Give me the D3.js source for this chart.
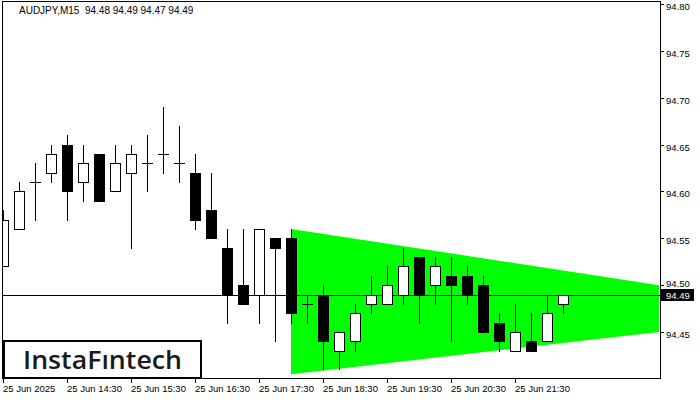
<!DOCTYPE html>
<html><head><meta charset="utf-8">
<script src="https://cdn.jsdelivr.net/npm/d3@7"></script>
<style>body{margin:0;background:#fff}svg{display:block}</style>
</head><body>
<svg id="chart" width="700" height="400"></svg>
<script>
// ---- data ----
const symbol = "AUDJPY,M15";
const lastBar = [94.48, 94.49, 94.47, 94.49];
const openP  = [94.52,94.56,94.61,94.62,94.65,94.61,94.64,94.60,94.62,94.63,94.64,94.63,94.62,94.58,94.54,94.50,94.49,94.55,94.55,94.48,94.49,94.43,94.44,94.48,94.48,94.49,94.53,94.50,94.51,94.51,94.50,94.46,94.43,94.44,94.44,94.48];
const highP  = [94.58,94.61,94.63,94.65,94.66,94.65,94.64,94.65,94.65,94.66,94.69,94.67,94.64,94.62,94.56,94.56,94.56,94.55,94.56,94.49,94.50,94.45,94.48,94.51,94.52,94.54,94.53,94.53,94.53,94.52,94.51,94.47,94.48,94.47,94.49,94.49];
const lowP   = [94.52,94.56,94.57,94.61,94.57,94.59,94.59,94.60,94.54,94.60,94.62,94.61,94.56,94.55,94.46,94.48,94.46,94.44,94.46,94.46,94.41,94.41,94.43,94.47,94.48,94.48,94.46,94.48,94.44,94.48,94.45,94.43,94.43,94.43,94.44,94.47];
const closeP = [94.57,94.60,94.61,94.64,94.60,94.63,94.59,94.63,94.64,94.63,94.64,94.63,94.57,94.55,94.49,94.48,94.56,94.54,94.47,94.48,94.44,94.45,94.47,94.49,94.50,94.52,94.49,94.52,94.50,94.49,94.45,94.44,94.45,94.43,94.47,94.49];
const timeLabels = ["25 Jun 2025","25 Jun 14:30","25 Jun 15:30","25 Jun 16:30","25 Jun 17:30","25 Jun 18:30","25 Jun 19:30","25 Jun 20:30","25 Jun 21:30"];
const labelBars = [0,4,8,12,16,20,24,28,32];
const priceTicks = [94.45,94.50,94.55,94.60,94.65,94.70,94.75,94.80];
const currentPrice = 94.49;
const triBars = [18, 41];
const triTop = [94.56, 94.50];
const triBottom = [94.405, 94.45];
const logoText = "InstaF\u0131ntech";

// ---- layout ----
const svg = d3.select("#chart");
const plot = {left: 2.5, top: 1.5, right: 660.5, bottom: 378.5};
const x = d3.scaleLinear().domain([0, 41]).range([3, 659]);
const y = d3.scaleLinear().domain([94.45, 94.80]).range([332, 4]);

svg.append("defs").append("clipPath").attr("id","clip")
  .append("rect").attr("x",plot.left).attr("y",plot.top)
  .attr("width",plot.right-plot.left).attr("height",plot.bottom-plot.top);
const g = svg.append("g").attr("clip-path","url(#clip)");

// triangle
const tri = [
  [x(triBars[0]), y(triTop[0])],
  [x(triBars[1]), y(triTop[1])],
  [x(triBars[1]), y(triBottom[1])],
  [x(triBars[0]), y(triBottom[0])]
];
g.append("path").attr("d", d3.line()(tri) + "Z").attr("fill", "#00ff00");

// current price line
g.append("line").attr("x1", plot.left).attr("x2", plot.right)
  .attr("y1", Math.round(y(currentPrice)) + 0.5).attr("y2", Math.round(y(currentPrice)) + 0.5)
  .attr("stroke", "#000").attr("stroke-width", 1);

// candles
const bars = d3.range(openP.length).map(i => ({i, o: openP[i], h: highP[i], l: lowP[i], c: closeP[i]}));
const py = v => Math.round(y(v));
const cg = g.append("g");
bars.forEach(d => {
  const cx = Math.round(x(d.i)) + 0.5;
  cg.append("line").attr("x1", cx).attr("x2", cx)
    .attr("y1", py(d.h)).attr("y2", py(d.l) + 1)
    .attr("stroke", "#000").attr("stroke-width", 1);
  if (d.o === d.c) {
    cg.append("line").attr("x1", cx - 5.5).attr("x2", cx + 5.5)
      .attr("y1", py(d.o) + 0.5).attr("y2", py(d.o) + 0.5)
      .attr("stroke", "#000").attr("stroke-width", 1);
  } else {
    const top = py(Math.max(d.o, d.c)), bot = py(Math.min(d.o, d.c));
    cg.append("rect").attr("x", cx - 5).attr("y", top + 0.5)
      .attr("width", 10).attr("height", bot - top)
      .attr("fill", d.c > d.o ? "#fff" : "#000")
      .attr("stroke", "#000").attr("stroke-width", 1);
  }
});

// frame
svg.append("rect").attr("x", plot.left).attr("y", plot.top)
  .attr("width", plot.right - plot.left).attr("height", plot.bottom - plot.top)
  .attr("fill", "none").attr("stroke", "#000").attr("stroke-width", 1);

// right axis
const font = "'Liberation Sans', Arial, sans-serif";
priceTicks.forEach(p => {
  const yy = Math.round(y(p)) + 0.5;
  svg.append("line").attr("x1", 660).attr("x2", 664).attr("y1", yy).attr("y2", yy).attr("stroke", "#000");
  svg.append("text").attr("x", 666).attr("y", p === 94.50 ? yy + 1 : yy + 5)
    .attr("font-family", font).attr("font-size", 9.5).attr("fill", "#000").text(p.toFixed(2));
});
const cpY = Math.round(y(currentPrice));
svg.append("rect").attr("x", 661).attr("y", cpY - 6).attr("width", 33).attr("height", 12).attr("fill", "#000");
svg.append("text").attr("x", 666).attr("y", cpY + 4).attr("font-family", font).attr("font-size", 9.5)
  .attr("fill", "#fff").text(currentPrice.toFixed(2));

// bottom axis
labelBars.forEach((b, k) => {
  const xx = Math.round(x(b)) + 0.5;
  svg.append("line").attr("x1", xx).attr("x2", xx).attr("y1", 379).attr("y2", 383).attr("stroke", "#000");
  svg.append("text").attr("x", xx - 0.5).attr("y", 392).attr("font-family", font).attr("font-size", 9.5)
    .attr("fill", "#000").text(timeLabels[k]);
});

// title
svg.append("text").attr("x", 19).attr("y", 14).attr("font-family", font).attr("font-size", 10)
  .attr("fill", "#000").attr("xml:space", "preserve")
  .text(symbol + "  " + lastBar.map(v => v.toFixed(2)).join(" "));

// logo
svg.append("rect").attr("x", 4).attr("y", 341).attr("width", 197).attr("height", 37)
  .attr("fill", "#fff").attr("stroke", "#000").attr("stroke-width", 2);
svg.append("text").attr("x", 23).attr("y", 369).attr("font-family", "'Open Sans', sans-serif")
  .attr("font-weight", 600).attr("font-size", 26).attr("fill", "#1a1a1a")
  .attr("textLength", 159).attr("lengthAdjust", "spacingAndGlyphs").text(logoText);
</script>
</body></html>
